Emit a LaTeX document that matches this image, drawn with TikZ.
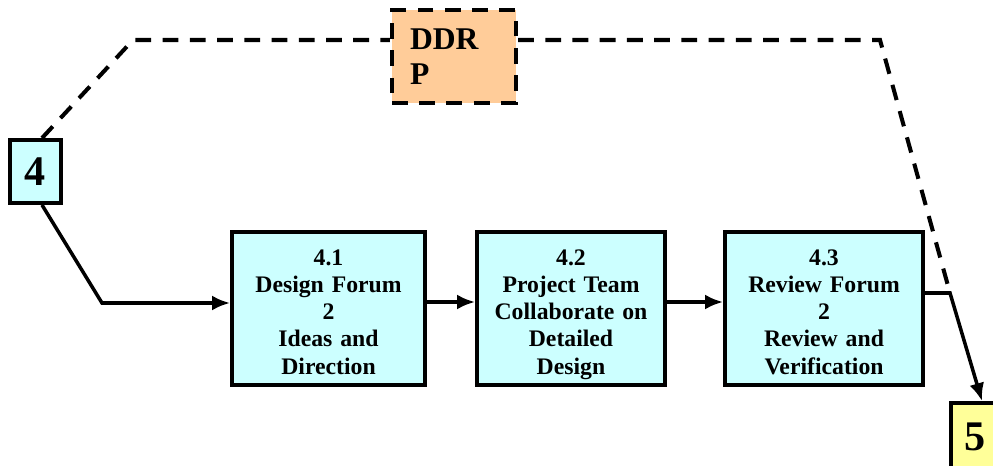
\documentclass[tikz,border=0pt]{standalone}
\usepackage{fontspec}
\setmainfont{Liberation Serif}
\usetikzlibrary{arrows.meta}
\definecolor{boxcyan}{HTML}{CCFFFF}
\definecolor{boxorange}{HTML}{FFCC99}
\definecolor{boxyellow}{HTML}{FFFF99}
\begin{document}
\begin{tikzpicture}[x=0.02cm, y=-0.02cm,
    procbox/.style={draw, line width=2.2pt, fill=boxcyan, minimum width=3.86cm, minimum height=3.06cm,
        text width=3.7cm, align=center, inner sep=0pt, font=\fontsize{13.5}{15.4}\selectfont\bfseries,
        execute at begin node={\rule{0pt}{\dimexpr\ht\strutbox+0.24cm}}, execute at end node=\strut},
    numbox/.style={draw, line width=2.2pt, inner sep=0pt, font=\fontsize{24}{26}\selectfont\bfseries},
    dashline/.style={line width=2.3pt, dash pattern=on 9pt off 6.5pt},
    flow/.style={line width=2pt, -{Latex[length=0.36cm,width=0.3cm]}}]
    \clip (0,0) rectangle (993,466);
    %riquadri ingresso e uscita
    \node[numbox, fill=boxcyan, minimum width=1.02cm, minimum height=1.26cm] (b4) at (35.5,171.5) {4};
    \node[numbox, fill=boxyellow, minimum width=0.98cm, minimum height=1.34cm] (b5) at (975.5,436.5) {5};
    %riquadro DDRP
    \node[draw, dashline, fill=boxorange, minimum width=2.48cm, minimum height=1.86cm, text width=1.76cm,
        inner xsep=0.36cm, align=left, font=\fontsize{18}{19.8}\selectfont\bfseries] (ddrp) at (454,56.5) {DDR\\P};
    %fasi 4.1 4.2 4.3
    \node[procbox] (p41) at (328.5,308.5) {4.1\\Design Forum\\2\\Ideas and\\Direction};
    \node[procbox, minimum width=3.76cm] (p42) at (571,308.5) {4.2\\Project Team\\Collaborate on\\Detailed\\Design};
    \node[procbox, minimum width=3.96cm] (p43) at (824,308.5) {4.3\\Review Forum\\2\\Review and\\Verification};
    
    %punti di snodo
    \coordinate (tl) at (133,40);
    \coordinate (tr) at (880,40);
    \coordinate (bl) at (102,303);
    \coordinate (j) at (950,293);
    
    %percorso tratteggiato
    \draw[dashline] ([xshift=0.13cm]b4.north) -- (tl) -- (ddrp.west |- tl);
    \draw[dashline] (ddrp.east |- tr) -- (tr) -- (j);
    %frecce
    \draw[flow] ([xshift=0.13cm]b4.south) -- (bl) -- (bl -| p41.west);
    \draw[flow] ([yshift=0.13cm]p41.east) -- ([yshift=0.13cm]p42.west);
    \draw[flow] ([yshift=0.13cm]p42.east) -- ([yshift=0.13cm]p43.west);
    \draw[flow] ([yshift=0.31cm]p43.east) -- (j) -- ([xshift=0.13cm]b5.north);
    
\end{tikzpicture}
\end{document}
